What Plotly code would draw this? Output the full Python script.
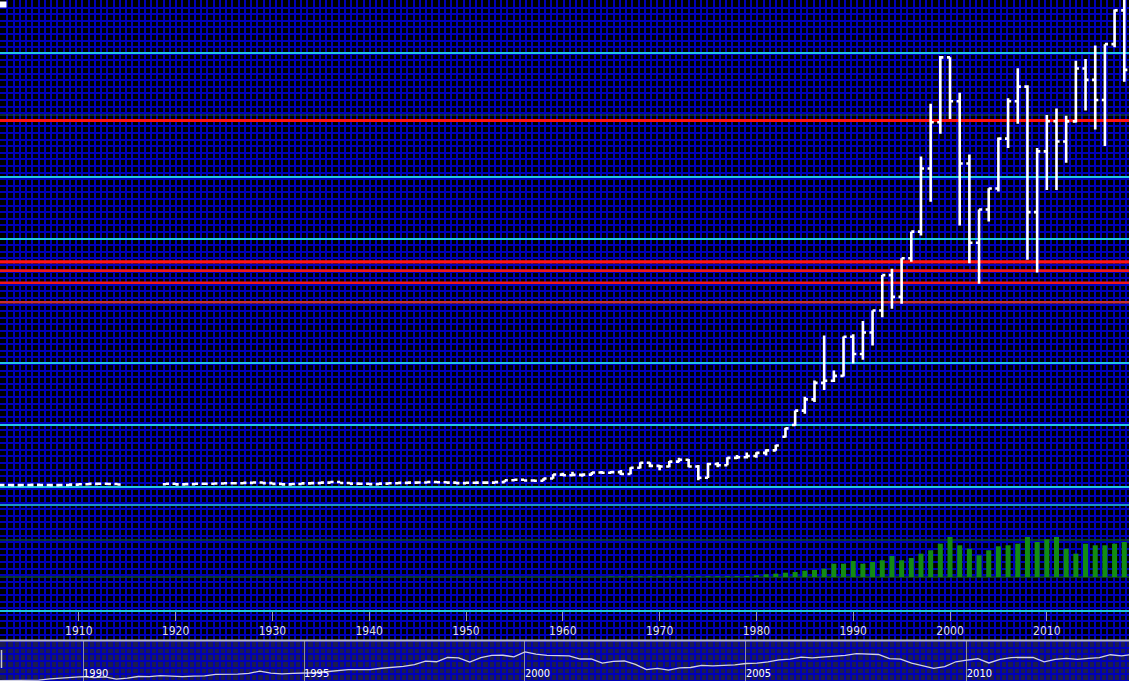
import plotly.graph_objects as go

# ---------------- data ----------------
years = [1901, 1902, 1903, 1904, 1905, 1906, 1907, 1908, 1909, 1910, 1911, 1912, 1913, 1914,
         1919, 1920, 1921, 1922, 1923, 1924, 1925, 1926, 1927, 1928, 1929, 1930, 1931, 1932,
         1933, 1934, 1935, 1936, 1937, 1938, 1939, 1940, 1941, 1942, 1943, 1944, 1945, 1946,
         1947, 1948, 1949, 1950, 1951, 1952, 1953, 1954, 1955, 1956, 1957, 1958, 1959, 1960,
         1961, 1962, 1963, 1964, 1965, 1966, 1967, 1968, 1969, 1970, 1971, 1972, 1973, 1974,
         1975, 1976, 1977, 1978, 1979, 1980, 1981, 1982, 1983, 1984, 1985, 1986, 1987, 1988,
         1989, 1990, 1991, 1992, 1993, 1994, 1995, 1996, 1997, 1998, 1999, 2000, 2001, 2002,
         2003, 2004, 2005, 2006, 2007, 2008, 2009, 2010, 2011, 2012, 2013, 2014, 2015, 2016,
         2017, 2018]
opens = [30, 31, 32, 30, 32, 34, 33, 30, 33, 39, 44, 50, 52, 48,
         45, 52, 42, 46, 53, 52, 57, 60, 61, 67, 72, 62, 50, 42,
         48, 58, 63, 70, 80, 64, 55, 52, 46, 55, 60, 66, 70, 72,
         80, 76, 70, 62, 68, 70, 70, 78, 108, 118, 104, 100, 138, 200,
         190, 195, 200, 235, 230, 240, 210, 310, 390, 340, 330, 410, 440, 330,
         150, 370, 350, 470, 480, 500, 550, 590, 810, 1000, 1232, 1413, 1679, 1713,
         1793, 2423, 2144, 2493, 2847, 3418, 3066, 3689, 4119, 5136, 5883, 6930, 6222, 5217,
         3940, 4477, 4814, 5619, 6221, 6457, 4434, 5413, 5900, 5572, 5898, 6749, 6566, 6242,
         7143, 7688]
highs = [33, 34, 34, 33, 35, 36, 35, 34, 40, 46, 52, 56, 55, 50,
         55, 56, 48, 55, 57, 58, 62, 63, 68, 78, 80, 66, 54, 50,
         60, 66, 72, 82, 84, 66, 60, 54, 56, 62, 68, 72, 76, 86,
         86, 80, 72, 70, 78, 72, 80, 110, 130, 122, 126, 140, 205, 230,
         245, 210, 240, 260, 258, 274, 320, 400, 400, 355, 420, 470, 450, 355,
         390, 400, 480, 515, 555, 560, 610, 680, 955, 1232, 1455, 1718, 2443, 1880,
         2426, 2463, 2679, 2847, 3418, 3520, 3689, 4119, 5330, 6180, 6950, 6930, 6360, 5362,
         4477, 4820, 5638, 6271, 6754, 6480, 5468, 6000, 6106, 5990, 6876, 6904, 7123, 7143,
         7700, 7903]
lows = [28, 29, 29, 29, 31, 32, 29, 29, 32, 37, 42, 47, 46, 38,
        43, 40, 38, 45, 50, 50, 55, 56, 60, 65, 60, 48, 38, 38,
        46, 56, 60, 68, 62, 52, 45, 40, 45, 54, 59, 65, 66, 70,
        70, 66, 56, 60, 66, 62, 68, 76, 100, 96, 94, 96, 135, 180,
        180, 165, 195, 220, 226, 194, 205, 300, 320, 270, 320, 400, 320, 110,
        145, 320, 350, 450, 460, 470, 510, 585, 800, 987, 1181, 1370, 1565, 1694,
        1783, 1990, 2054, 2281, 2737, 2876, 2954, 3633, 4057, 4599, 5697, 5935, 4219, 3609,
        3277, 4283, 4765, 5467, 5858, 3665, 3460, 4790, 4791, 5229, 5880, 6073, 5768, 5500,
        7093, 6537]
closes = [31, 32, 30, 32, 34, 33, 30, 33, 39, 44, 50, 52, 48, 40,
          52, 42, 46, 53, 52, 57, 60, 61, 67, 72, 62, 50, 42, 48,
          58, 63, 70, 80, 64, 55, 52, 46, 55, 60, 66, 70, 72, 80,
          76, 70, 62, 68, 70, 70, 78, 108, 118, 104, 100, 138, 202, 190,
          195, 200, 235, 230, 240, 210, 310, 390, 340, 330, 410, 440, 330, 150,
          370, 350, 470, 480, 500, 550, 590, 670, 945, 1232, 1413, 1679, 1713, 1793,
          2423, 2144, 2493, 2847, 3418, 3066, 3689, 4119, 5136, 5883, 6930, 6222, 5217, 3940,
          4477, 4814, 5619, 6221, 6457, 4434, 5413, 5900, 5572, 5898, 6749, 6566, 6242, 7143,
          7688, 6728]

vol_years = list(range(1965, 2019))
volumes = [10, 10, 12, 12, 14, 14, 15, 15, 16, 16, 17, 18, 19, 20,
           25, 42, 68, 83, 108, 125, 158, 175, 208, 333, 333, 400, 333, 375,
           418, 525, 418, 475, 583, 668, 833, 1000, 793, 708, 543, 668, 768, 793,
           833, 1000, 875, 943, 1000, 708, 583, 833, 793, 793, 833, 875]

# navigator series (quarterly, 1988 Q1 .. 2013 Q3)
nav_start_year = 1988
nav_values = [1713, 1745, 1857, 1791, 1793, 2012, 2152, 2299, 2423, 2248, 2374, 1990, 2144,
              2456, 2415, 2621, 2493, 2441, 2521, 2554, 2847, 2858, 2900, 3038, 3418,
              3086, 2919, 3027, 3066, 3138, 3314, 3508, 3689, 3699, 3711, 3954, 4119,
              4308, 4604, 5244, 5136, 5933, 5833, 5064, 5883, 6296, 6318, 6030, 6930,
              6540, 6313, 6294, 6222, 5634, 5643, 4903, 5217, 5272, 4656, 3722, 3940,
              3613, 4031, 4091, 4477, 4386, 4464, 4571, 4814, 4894, 5113, 5478, 5619,
              5965, 5833, 5961, 6221, 6308, 6608, 6467, 6457, 5702, 5626, 4902, 4434,
              3926, 4249, 5134, 5413, 5680, 4917, 5549, 5900, 5909, 5946, 5128, 5572,
              5768, 5571, 5742, 5898, 6412, 6215, 6462]

cyan_levels = [7000, 5000, 4000, 2000, 1000, 0]
red_levels = [5910, 3630, 3490, 3295, 2980]
faint_levels = [6000]
teal_levels = [-290]
vol_guides = [0, 925]

x_ticks = [1910, 1920, 1930, 1940, 1950, 1960, 1970, 1980, 1990, 2000, 2010]
nav_ticks = [1990, 1995, 2000, 2005, 2010]

# ---------------- styling / layout ----------------
W, H = 1129, 685
X_RANGE = [1901.86, 2018.49]
Y_RANGE = [-1984, 7855]
VOL_RANGE = [-825, 14425]
NAV_X_RANGE = [1988.12, 2013.67]
NAV_Y_RANGE = [909, 8909]
GRID = "#0000b8"
CYAN = "#22c8e0"
FONT = "Liberation Sans Narrow, Arial Narrow, DejaVu Sans Condensed, sans-serif"

fig = go.Figure()

# background grid subplot (pixel units)
fig.add_trace(go.Scatter(x=[None], y=[None], xaxis="x", yaxis="y",
                         showlegend=False, hoverinfo="skip"))

fig.add_trace(go.Ohlc(
    x=years, open=opens, high=highs, low=lows, close=closes,
    xaxis="x2", yaxis="y2",
    increasing=dict(line=dict(color="#ffffff", width=2.6)),
    decreasing=dict(line=dict(color="#ffffff", width=2.6)),
    tickwidth=0.32, showlegend=False, hoverinfo="skip"))

fig.add_trace(go.Bar(
    x=vol_years, y=volumes, xaxis="x2", yaxis="y3",
    marker=dict(color="#128c12", line=dict(width=0)), width=0.52,
    showlegend=False, hoverinfo="skip"))

nav_x = [nav_start_year + 0.25 * i for i in range(len(nav_values))]
fig.add_trace(go.Scatter(
    x=nav_x, y=nav_values, xaxis="x4", yaxis="y4", mode="lines",
    line=dict(color="#d2d2e4", width=1.3), showlegend=False, hoverinfo="skip"))

shapes = []
# navigator background and borders
shapes.append(dict(type="rect", xref="paper", yref="paper", x0=0, x1=1,
                   y0=4 / H, y1=44 / H, fillcolor="#1c1c50", line=dict(width=0), layer="below"))
shapes.append(dict(type="rect", xref="paper", yref="paper", x0=0, x1=1,
                   y0=0, y1=4 / H, fillcolor="#ffffff", line=dict(width=0), layer="above"))
shapes.append(dict(type="line", xref="paper", yref="paper", x0=0, x1=1,
                   y0=44.5 / H, y1=44.5 / H, line=dict(color="#b8b8c4", width=2), layer="above"))
shapes.append(dict(type="line", xref="paper", yref="paper", x0=1.5 / W, x1=1.5 / W,
                   y0=17 / H, y1=35 / H, line=dict(color="#c8c8d0", width=1.5), layer="above"))
shapes.append(dict(type="rect", xref="paper", yref="paper", x0=0, x1=6.5 / W,
                   y0=1 - 7.5 / H, y1=1 - 1.5 / H, fillcolor="#ffffff", line=dict(width=0), layer="above"))

for lv in faint_levels:
    shapes.append(dict(type="line", xref="x2", yref="y2", x0=X_RANGE[0], x1=X_RANGE[1],
                       y0=lv, y1=lv, line=dict(color="#1e5a44", width=1), layer="below"))
for lv in cyan_levels:
    shapes.append(dict(type="line", xref="x2", yref="y2", x0=X_RANGE[0], x1=X_RANGE[1],
                       y0=lv, y1=lv, line=dict(color=CYAN, width=2), layer="below"))
for lv in teal_levels:
    shapes.append(dict(type="line", xref="x2", yref="y2", x0=X_RANGE[0], x1=X_RANGE[1],
                       y0=lv, y1=lv, line=dict(color="#1a98bc", width=2), layer="below"))
red_styles = [("#ff1414", 3), ("#ff1414", 3.2), ("#f01818", 2.6), ("#f01818", 2.6), ("#c83030", 2.4)]
for lv, (col, wd) in zip(red_levels, red_styles):
    shapes.append(dict(type="line", xref="x2", yref="y2", x0=X_RANGE[0], x1=X_RANGE[1],
                       y0=lv, y1=lv, line=dict(color=col, width=wd), layer="below"))
for lv in vol_guides:
    shapes.append(dict(type="line", xref="x2", yref="y3", x0=X_RANGE[0], x1=X_RANGE[1],
                       y0=lv, y1=lv, line=dict(color="#0f4a34", width=1.5), layer="below"))

fig.update_layout(
    width=W, height=H, margin=dict(l=0, r=0, t=0, b=0),
    paper_bgcolor="#000000", plot_bgcolor="rgba(0,0,0,0)",
    showlegend=False, shapes=shapes,
    xaxis=dict(domain=[0, 1], range=[0, W], showgrid=True, gridcolor=GRID, gridwidth=2,
               tick0=1, dtick=6.25, showticklabels=False, ticks="", zeroline=False,
               showline=False),
    yaxis=dict(domain=[0, 1], range=[H, 0], showgrid=True, gridcolor=GRID, gridwidth=2,
               tick0=1, dtick=6.6, showticklabels=False, ticks="", zeroline=False,
               showline=False),
    xaxis2=dict(domain=[0, 1], anchor="y2", range=X_RANGE, tickvals=x_ticks,
                ticktext=[str(t) for t in x_ticks], ticks="outside", ticklen=9,
                tickcolor="#9a9aa8", tickwidth=1, showgrid=False, zeroline=False,
                showline=True, linecolor=CYAN, linewidth=2,
                rangeslider=dict(visible=False),
                tickfont=dict(family=FONT, size=12, color="#dcdce8")),
    yaxis2=dict(domain=[75 / H, 1], anchor="x2", range=Y_RANGE, showgrid=False,
                zeroline=False, showticklabels=False, ticks=""),
    yaxis3=dict(overlaying="y2", anchor="x2", range=VOL_RANGE, showgrid=False,
                zeroline=False, showticklabels=False, ticks=""),
    xaxis4=dict(domain=[0, 1], anchor="y4", range=NAV_X_RANGE, tickvals=nav_ticks,
                ticktext=[str(t) for t in nav_ticks], ticklabelposition="inside right",
                ticks="", showgrid=True, gridcolor="#8c8ca0", gridwidth=1,
                zeroline=False, showline=False,
                tickfont=dict(family=FONT, size=11, color="#ffffff")),
    yaxis4=dict(domain=[0, 44 / H], anchor="x4", range=NAV_Y_RANGE, showgrid=False,
                zeroline=False, showticklabels=False, ticks=""),
)

fig.write_html(
    "out.html",
    config={"displayModeBar": False, "staticPlot": True},
    post_script="document.body.style.margin='0px';document.body.style.overflow='hidden';"
                "document.documentElement.style.overflow='hidden';",
)
